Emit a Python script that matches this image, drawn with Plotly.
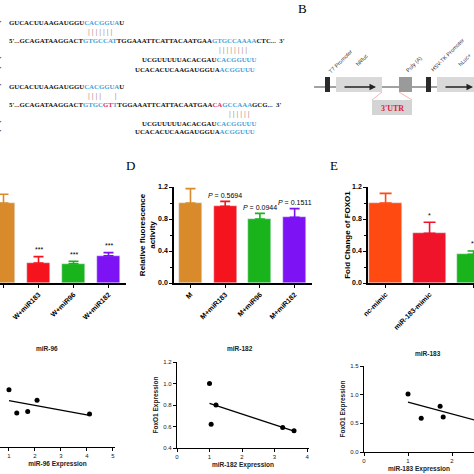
import plotly.graph_objects as go

W = H = 474
def px(x): return x / W
def py(y): return 1 - y / H

# ---------------- data ----------------
c_cats = ["W", "W+miR183", "W+miR96", "W+miR182"]
c_vals = [1.0, 0.25, 0.24, 0.34]
c_err = [0.11, 0.08, 0.03, 0.04]
c_sig = ["", "***", "***", "***"]
c_colors = ["#d98b2b", "#f5141e", "#19b31c", "#7d12f5"]

d_cats = ["M", "M+miR183", "M+miR96", "M+miR182"]
d_vals = [1.0, 0.96, 0.80, 0.82]
d_err = [0.18, 0.06, 0.07, 0.11]
d_p = ["", "<i>P</i> = 0.5694", "<i>P</i> = 0.0944", "<i>P</i> = 0.1511"]
d_colors = ["#d98b2b", "#f5141e", "#19b31c", "#7d12f5"]

e_cats = ["nc-mimic", "miR-183-mimic", "miR-96-mimic"]
e_vals = [1.0, 0.62, 0.36]
e_err = [0.12, 0.14, 0.04]
e_sig = ["", "*", "**"]
e_colors = ["#ff4a12", "#f0142a", "#19b31c"]

s96_x = [1.0, 1.3, 1.72, 2.08, 4.1]
s96_y = [0.94, 0.72, 0.735, 0.84, 0.71]
s96_fit_x = [1.0, 4.1]
s96_fit_y = [0.837, 0.698]

s182_x = [1.0, 1.05, 1.2, 3.25, 3.6]
s182_y = [1.0, 0.62, 0.80, 0.59, 0.56]
s182_fit_x = [1.0, 3.6]
s182_fit_y = [0.815, 0.556]

s183_x = [1.0, 1.3, 1.73, 1.8]
s183_y = [1.01, 0.59, 0.80, 0.61]
s183_fit_x = [1.0, 2.6]
s183_fit_y = [0.87, 0.54]

BLUE = "#3f9fd8"
RED = "#e3245a"
BLK = "#111111"

seq_lines = [
    (7, 23, [("GUCACUUAAGAUGGU", BLK), ("CACGGUA", BLUE), ("U", BLK)]),
    (7, 41, [("5'...GCAGATAAGGACT", BLK), ("GTGCCAT", BLUE), ("TGGAAATTCATTACAATGAA", BLK),
             ("GTGCCAAAA", BLUE), ("CTC...  3'", BLK)]),
    (140, 59, [("UCGUUUUUACACGAU", BLK), ("CACGGUUU", BLUE)]),
    (133, 69, [("UCACACUCAAGAUGGUA", BLK), ("ACGGUUU", BLUE)]),
    (7, 86, [("GUCACUUAAGAUGGU", BLK), ("CACGGUA", BLUE), ("U", BLK)]),
    (7, 105, [("5'...GCAGATAAGGACT", BLK), ("GTGC", BLUE), ("GT", RED), ("T", BLUE),
              ("TGGAAATTCATTACAATGAA", BLK), ("CA", RED), ("GCCAAA", BLUE), ("GCG...  3'", BLK)]),
    (140, 123, [("UCGUUUUUACACGAU", BLK), ("CACGGUUU", BLUE)]),
    (133, 132, [("UCACACUCAAGAUGGUA", BLK), ("ACGGUUU", BLUE)]),
]
pair_lines = [
    (86, 32, "| | | | | | |"),
    (217, 50, "| | | | | | | |"),
    (86, 96, "| | | |       |"),
    (227, 114, "| | | | | |"),
]

fig = go.Figure()

for axx, axy, cats, vals, errs, cols, bw, cw in [
        ("x", "y", c_cats, c_vals, c_err, c_colors, 0.66, 5),
        ("x2", "y2", d_cats, d_vals, d_err, d_colors, 0.66, 5),
        ("x3", "y3", e_cats, e_vals, e_err, e_colors, 0.75, 6)]:
    fig.add_trace(go.Bar(x=list(range(len(cats))), y=vals, marker_color=cols, width=bw,
                         xaxis=axx, yaxis=axy, showlegend=False))
    for i, (v, e, col) in enumerate(zip(vals, errs, cols)):
        fig.add_trace(go.Scatter(x=[i], y=[v], mode="markers", marker=dict(size=0.1, color=col),
                                 error_y=dict(type="data", array=[e], arrayminus=[0], symmetric=False,
                                              color=col, thickness=1.6, width=cw),
                                 xaxis=axx, yaxis=axy, showlegend=False, hoverinfo="skip"))

for sx, sy, fx, fy, ax, ay in [(s96_x, s96_y, s96_fit_x, s96_fit_y, "x4", "y4"),
                               (s182_x, s182_y, s182_fit_x, s182_fit_y, "x5", "y5"),
                               (s183_x, s183_y, s183_fit_x, s183_fit_y, "x6", "y6")]:
    fig.add_trace(go.Scatter(x=fx, y=fy, mode="lines", line=dict(color="black", width=1.3),
                             xaxis=ax, yaxis=ay, showlegend=False))
    fig.add_trace(go.Scatter(x=sx, y=sy, mode="markers", marker=dict(color="black", size=5),
                             xaxis=ax, yaxis=ay, showlegend=False, cliponaxis=False))

bar_tick = dict(family="Arial", size=7, color="black", weight="bold")
axis_common = dict(showline=True, linecolor="black", linewidth=1.5, ticks="outside",
                   tickcolor="black", ticklen=3, tickwidth=1.2, showgrid=False, zeroline=False,
                   automargin=False)

layout = dict(
    width=W, height=H, margin=dict(l=0, r=0, t=0, b=0, autoexpand=False),
    plot_bgcolor="white", paper_bgcolor="white", bargap=0,
    xaxis=dict(domain=[0, px(126)], range=[-0.1, 3.5], tickmode="array",
               tickvals=list(range(4)), ticktext=c_cats, tickangle=-45, tickfont=bar_tick,
               anchor="y", **axis_common),
    yaxis=dict(domain=[py(283), py(187)], range=[0, 1.2], visible=False, anchor="x", automargin=False),
    xaxis2=dict(domain=[px(174), px(312)], range=[-0.475, 3.5], tickmode="array",
                tickvals=list(range(4)), ticktext=d_cats, tickangle=-45, tickfont=bar_tick,
                anchor="y2", **axis_common),
    yaxis2=dict(domain=[py(283), py(187)], range=[0, 1.2], tickvals=[0, 0.4, 0.8, 1.2],
                tickformat=".1f", tickfont=bar_tick, anchor="x2",
                minor=dict(ticks="outside", ticklen=2, dtick=0.2, tickcolor="black"),
                title=dict(text="<b>Relative fluorescence<br>activity</b>",
                           font=dict(family="Arial", size=8, color="black"), standoff=1),
                **axis_common),
    xaxis3=dict(domain=[px(368), 1], range=[-0.4, 2.01], tickmode="array",
                tickvals=list(range(3)), ticktext=e_cats, tickangle=-45, tickfont=bar_tick,
                anchor="y3", **axis_common),
    yaxis3=dict(domain=[py(283), py(187)], range=[0, 1.2], tickvals=[0, 0.4, 0.8, 1.2],
                tickformat=".1f", tickfont=bar_tick, anchor="x3",
                minor=dict(ticks="outside", ticklen=2, dtick=0.2, tickcolor="black"),
                title=dict(text="<b>Fold Change of FOXO1</b>",
                           font=dict(family="Arial", size=8, color="black"), standoff=0),
                **axis_common),
)

sc_common = dict(showline=True, linecolor="black", linewidth=1.2, ticks="outside",
                 tickcolor="black", ticklen=3, tickwidth=1, showgrid=False, zeroline=False,
                 automargin=False, tickfont=dict(family="Arial", size=6, color="#222"))
tfont = dict(family="Arial", size=6.5, color="#222")
layout.update(
    xaxis4=dict(domain=[0, px(115)], range=[0.654, 5.08], dtick=1, anchor="y4",
                title=dict(text="<b>miR-96 Expression</b>", font=tfont, standoff=3), **sc_common),
    yaxis4=dict(domain=[py(447), py(362)], range=[0.4, 1.2], visible=False, anchor="x4", automargin=False),
    xaxis5=dict(domain=[px(177), px(309)], range=[0, 4.06], dtick=1, anchor="y5",
                title=dict(text="<b>miR-182 Expression</b>", font=tfont, standoff=3), **sc_common),
    yaxis5=dict(domain=[py(448), py(362)], range=[0.4, 1.2], dtick=0.2, tickformat=".1f", anchor="x5",
                title=dict(text="<b>FoxO1 Expression</b>", font=tfont, standoff=4), **sc_common),
    xaxis6=dict(domain=[px(364), 1], range=[0, 2.5], dtick=1, anchor="y6",
                title=dict(text="<b>miR-183 Expression</b>", font=tfont, standoff=3), **sc_common),
    yaxis6=dict(domain=[py(452), py(366)], range=[0, 1.5], dtick=0.5, tickformat=".1f", anchor="x6",
                title=dict(text="<b>FoxO1 Expression</b>", font=tfont, standoff=4), **sc_common),
)
fig.update_layout(**layout)

ann = []
for axx, axy, vals, errs, marks, ys in [("x", "y", c_vals, c_err, c_sig, 7),
                                        ("x2", "y2", d_vals, d_err, d_p, 6),
                                        ("x3", "y3", e_vals, e_err, e_sig, 7)]:
    for i, (v, e, s) in enumerate(zip(vals, errs, marks)):
        if s:
            ann.append(dict(x=i, y=v + e, xref=axx, yref=axy, text=s, showarrow=False, yshift=ys,
                            xanchor="center", yanchor="middle",
                            font=dict(family="Arial", size=7, color="black")))

def centered(t, x, y, font):
    return dict(x=px(x), y=py(y), xref="paper", yref="paper", text=t, showarrow=False,
                xanchor="center", yanchor="middle", font=font)

for t, x, y in [("miR-96", 47, 348), ("miR-182", 240, 348), ("miR-183", 428, 353)]:
    ann.append(centered("<b>" + t + "</b>", x, y, tfont))

for t, x, y in [("B", 302, 8), ("D", 130, 166), ("E", 334, 166)]:
    ann.append(centered(t, x, y, dict(family="Liberation Serif", size=13, color="black")))

def seg_html(segs):
    return "".join('<span style="color:%s">%s</span>' % (c, t) for t, c in segs)

for x, y, segs in seq_lines:
    ann.append(dict(x=px(x), y=py(y), xref="paper", yref="paper", xanchor="left", yanchor="middle",
                    text="<b>" + seg_html(segs) + "</b>", showarrow=False,
                    font=dict(family="Liberation Serif", size=6.8, color=BLK)))
for x, y, t in pair_lines:
    ann.append(dict(x=px(x), y=py(y), xref="paper", yref="paper", xanchor="left", yanchor="middle",
                    text=t, showarrow=False, font=dict(family="Liberation Sans", size=7, color="#b09090")))
for y in [23, 59, 69, 86, 123, 132]:
    ann.append(dict(x=px(4), y=py(y), xref="paper", yref="paper", xanchor="right", yanchor="middle",
                    text="<b>3'</b>", showarrow=False,
                    font=dict(family="Liberation Serif", size=7, color=BLK)))

for t, x, y in [("T7 Promoter", 325, 77), ("hRluc", 352, 70), ("Poly (A)", 402, 76),
                ("HSV-TK Promoter", 427, 76), ("hLuc+", 454, 70)]:
    ann.append(dict(x=px(x), y=py(y), xref="paper", yref="paper", xanchor="left", yanchor="bottom",
                    text=t, textangle=-45, showarrow=False,
                    font=dict(family="Liberation Sans", size=5.5, color="#333")))
ann.append(centered("<b>3'UTR</b>", 392, 108, dict(family="Liberation Serif", size=8, color="#e0203a")))
for x0, x1 in [(343, 376), (444, 476)]:
    ann.append(dict(x=px(x1), y=py(87), ax=-(x1 - x0), ay=0, xref="paper", yref="paper",
                    axref="pixel", ayref="pixel", text="", showarrow=True, arrowhead=2,
                    arrowsize=1, arrowwidth=1.3, arrowcolor="#222"))
fig.update_layout(annotations=ann)

def rect(x0, x1, y0, y1, col):
    return dict(type="rect", xref="paper", yref="paper", x0=px(x0), x1=px(x1), y0=py(y1), y1=py(y0),
                fillcolor=col, line=dict(width=0), layer="below")

def seg(x0, y0, x1, y1, col, w):
    return dict(type="line", xref="paper", yref="paper", x0=px(x0), x1=px(x1), y0=py(y0), y1=py(y1),
                line=dict(color=col, width=w), layer="below")

shapes = [
    seg(314, 87, 474, 87, "#444", 1),
    rect(325, 330, 77, 92, "#2a2a2a"),
    rect(336, 382, 77, 92, "#d9d9d9"),
    rect(399, 412, 77, 92, "#9a9a9a"),
    rect(426, 431, 77, 92, "#2a2a2a"),
    rect(437, 474, 77, 92, "#d9d9d9"),
    seg(382, 92, 372, 100, "#f0a0a0", 0.8),
    seg(399, 92, 412, 100, "#f0a0a0", 0.8),
    rect(372, 412, 100, 115, "#d4d4d4"),
]
fig.update_layout(shapes=shapes)

fig.write_html("out.html", config={"displayModeBar": False},
               post_script="document.body.style.margin='0';document.body.style.overflow='hidden';")
